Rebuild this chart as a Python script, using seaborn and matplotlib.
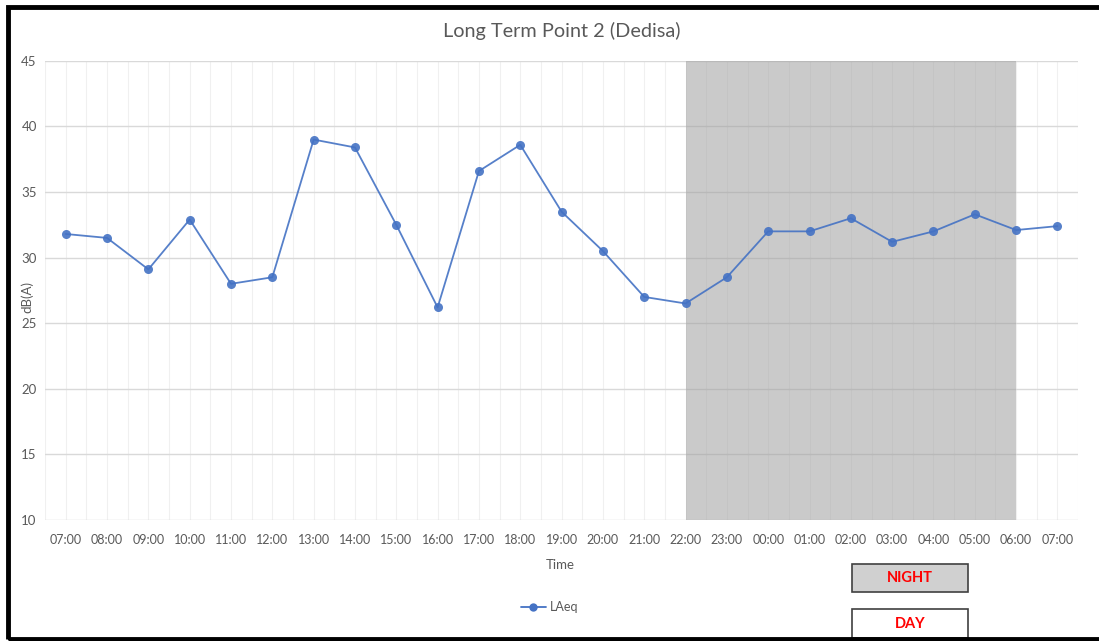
import numpy as np
import pandas as pd
import seaborn as sns
import matplotlib.pyplot as plt
from matplotlib.lines import Line2D
from matplotlib.patches import Rectangle

# --- Daten ---
times = ["07:00", "08:00", "09:00", "10:00", "11:00", "12:00", "13:00", "14:00",
         "15:00", "16:00", "17:00", "18:00", "19:00", "20:00", "21:00", "22:00",
         "23:00", "00:00", "01:00", "02:00", "03:00", "04:00", "05:00", "06:00", "07:00"]
laeq = [31.8, 31.5, 29.1, 32.9, 28.0, 28.5, 39.0, 38.4,
        32.5, 26.2, 36.6, 38.6, 33.5, 30.5, 27.0, 26.5,
        28.5, 32.0, 32.0, 33.0, 31.2, 32.0, 33.3, 32.1, 32.4]
night_start = "22:00"
night_end = "06:00"
y_ticks = [10, 15, 20, 25, 30, 35, 40, 45]

df = pd.DataFrame({"pos": np.arange(len(times)), "LAeq": laeq})

sns.set_theme(style="white")
plt.rcParams['font.family'] = ['Lato', 'DejaVu Sans']

text_col = "#595959"
line_col = "#4472C4"

fig = plt.figure(figsize=(10.99, 6.41), dpi=100)
ax = fig.add_axes([0.041, 0.189, 0.940, 0.716])

# feine vertikale Gitterlinien (halbe Kategorien)
for gx in np.arange(-0.5, len(times), 0.5):
    ax.axvline(gx, color="#f0f0f0", lw=0.8, zorder=0.5)
for gy in y_ticks:
    ax.axhline(gy, color="#d9d9d9", lw=1.0, zorder=0.6)

# Nacht-Bereich grau hinterlegen (halbtransparent, Gitter scheint durch)
i0 = times.index(night_start)
i1 = len(times) - 2  # zweites Vorkommen von 06:00 ist eindeutig
ax.axvspan(i0, i1, color="#a0a0a0", alpha=0.55, zorder=1, lw=0)

sns.lineplot(data=df, x="pos", y="LAeq", ax=ax, color=line_col, lw=1.3,
             marker="o", markersize=6.5, markeredgewidth=0, alpha=0.9, zorder=3)

ax.set_xlim(-0.5, len(times) - 0.5)
ax.set_ylim(10, 45)
ax.set_xticks(np.arange(len(times)))
ax.set_xticklabels(times, fontsize=9, color=text_col)
ax.set_yticks(y_ticks)
ax.set_yticklabels([str(v) for v in y_ticks], fontsize=9.5, color=text_col)
ax.tick_params(axis="x", length=0, pad=10)
ax.tick_params(axis="y", length=0, pad=6)
for s in ax.spines.values():
    s.set_visible(False)

ax.set_xlabel("Time", fontsize=9.5, color=text_col)
ax.xaxis.set_label_coords(0.499, -0.085)
ax.set_ylabel("dB(A)", fontsize=9.5, color=text_col)
ax.yaxis.set_label_coords(-0.011, 0.485)
ax.set_title("Long Term Point 2 (Dedisa)", fontsize=14.3, color=text_col, pad=17)

# Legende
leg_handle = Line2D([0], [0], color=line_col, marker="o", markersize=6, lw=1.3, markeredgewidth=0)
fig.legend([leg_handle], ["LAeq"], loc="center", bbox_to_anchor=(0.50, 0.053),
           frameon=False, fontsize=9, labelcolor=text_col, handlelength=2.0, handletextpad=0.3)

# NIGHT / DAY Kästchen
def label_box(x, y, w, h, fc, txt):
    fig.patches.append(Rectangle((x, y), w, h, transform=fig.transFigure,
                                 facecolor=fc, edgecolor="#404040", lw=1.2))
    fig.text(x + w / 2, y + h / 2, txt, color="red", fontweight="bold",
             fontsize=10.5, ha="center", va="center")

label_box(852 / 1099, 1 - 592 / 641, 116 / 1099, 28 / 641, "#d0d0d0", "NIGHT")
label_box(852 / 1099, 1 - 638 / 641, 116 / 1099, 29 / 641, "white", "DAY")

# dicker schwarzer Rahmen
fig.patches.append(Rectangle((8 / 1099, 2 / 641), 1.2, 1 - 9 / 641,
                             transform=fig.transFigure, facecolor="none",
                             edgecolor="black", lw=3.5, clip_on=False))

fig.savefig("out.png", dpi=100)
